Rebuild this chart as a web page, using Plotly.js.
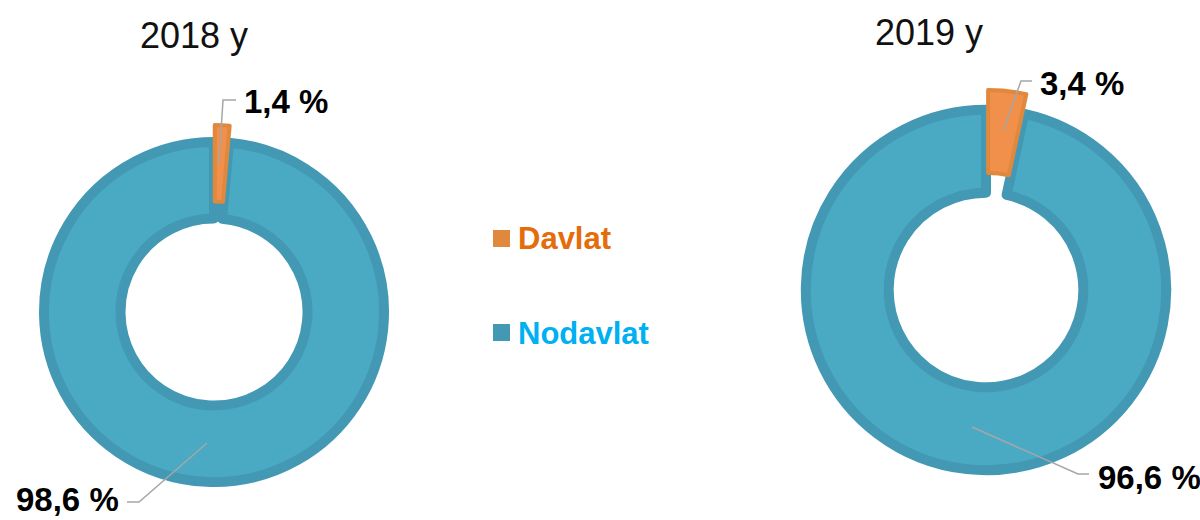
<!DOCTYPE html>
<html>
<head>
<meta charset="utf-8">
<script src="https://cdn.plot.ly/plotly-3.0.1.min.js"></script>
<style>html,body{margin:0;padding:0;background:#fff;}#chart{width:1200px;height:520px;}</style>
</head>
<body>
<div id="chart"></div>
<script>
// ---- data ----
const categories = ['Davlat', 'Nodavlat'];
const years = ['2018 y', '2019 y'];
const values2018 = [1.4, 98.6];
const values2019 = [3.4, 96.6];

// ---- styles ----
const fillColors = ['#F0904A', '#4AAAC4'];
const lineColors = ['#E0883E', '#4399B4'];
const lineWidths = [4, 10];
const legendTextColors = ['#E46C0A', '#00B0F0'];
const W = 1200, H = 520;
const FONT = 'Arial, "Liberation Sans", sans-serif';

function px(x, y) { return [x / W, 1 - y / H]; }
function domainFor(cx, cy, size) {
  const h = size / 2;
  return { x: [(cx - h) / W, (cx + h) / W], y: [1 - (cy + h) / H, 1 - (cy - h) / H] };
}
function fmt(v) { return v.toFixed(1).replace('.', ',') + ' %'; }

// slices are given in reverse order so the exploded "Davlat" slice is drawn on top;
// rotation puts the Davlat slice just clockwise of 12 o'clock
function pieTrace(vals, dom, pull, hole) {
  const order = [1, 0];
  const total = vals[0] + vals[1];
  return {
    type: 'pie',
    labels: order.map(i => categories[i]),
    values: order.map(i => vals[i]),
    sort: false,
    direction: 'clockwise',
    rotation: vals[0] / total * 360,
    hole: hole,
    pull: order.map(i => i === 0 ? pull : 0),
    domain: dom,
    textinfo: 'none',
    hoverinfo: 'label+value',
    showlegend: false,
    marker: {
      colors: order.map(i => fillColors[i]),
      line: { color: order.map(i => lineColors[i]), width: order.map(i => lineWidths[i]) }
    }
  };
}

const data = [
  pieTrace(values2018, domainFor(214, 312, 374), 0.1, 0.55),
  pieTrace(values2019, domainFor(986, 290, 400), 0.11, 0.54)
];

function pathPx(points) {
  return points.map((p, i) => {
    const q = px(p[0], p[1]);
    return (i ? 'L' : 'M') + q[0] + ',' + q[1];
  }).join(' ');
}
const leaderStyle = { color: '#A6A6A6', width: 1.5 };
const shapes = [
  { type: 'path', xref: 'paper', yref: 'paper', layer: 'above', path: pathPx([[219, 163], [223, 100], [236, 100]]), line: leaderStyle },
  { type: 'path', xref: 'paper', yref: 'paper', layer: 'above', path: pathPx([[207, 443], [139, 502], [127, 502]]), line: leaderStyle },
  { type: 'path', xref: 'paper', yref: 'paper', layer: 'above', path: pathPx([[1003, 131], [1021, 81], [1032, 81]]), line: leaderStyle },
  { type: 'path', xref: 'paper', yref: 'paper', layer: 'above', path: pathPx([[972, 427], [1078, 474], [1089, 474]]), line: leaderStyle },
  // legend markers
  { type: 'rect', xref: 'paper', yref: 'paper', layer: 'above', x0: 493 / W, x1: 510 / W, y0: 1 - 247 / H, y1: 1 - 230 / H, fillcolor: lineColors[0], line: { width: 0 } },
  { type: 'rect', xref: 'paper', yref: 'paper', layer: 'above', x0: 493 / W, x1: 510 / W, y0: 1 - 341 / H, y1: 1 - 324 / H, fillcolor: lineColors[1], line: { width: 0 } }
];

function ann(x, y, text, opts) {
  const p = px(x, y);
  return Object.assign({ xref: 'paper', yref: 'paper', x: p[0], y: p[1], text: text, showarrow: false,
    xanchor: 'left', yanchor: 'middle' }, opts);
}
const labelFont = { family: FONT, size: 33, color: '#000' };
const titleFont = { family: FONT, size: 36, color: '#111' };
const annotations = [
  ann(194, 36, years[0], { xanchor: 'center', font: titleFont }),
  ann(929, 32, years[1], { xanchor: 'center', font: titleFont }),
  ann(242, 102, '<b>' + fmt(values2018[0]) + '</b>', { font: labelFont }),
  ann(121, 499, '<b>' + fmt(values2018[1]) + '</b>', { xanchor: 'right', font: labelFont }),
  ann(1038, 83, '<b>' + fmt(values2019[0]) + '</b>', { font: labelFont }),
  ann(1096, 477, '<b>' + fmt(values2019[1]) + '</b>', { font: labelFont }),
  ann(516, 239, '<b>' + categories[0] + '</b>', { font: { family: FONT, size: 31, color: legendTextColors[0] } }),
  ann(516, 333, '<b>' + categories[1] + '</b>', { font: { family: FONT, size: 31, color: legendTextColors[1] } })
];

const layout = {
  width: W, height: H,
  margin: { l: 0, r: 0, t: 0, b: 0 },
  paper_bgcolor: '#fff',
  plot_bgcolor: '#fff',
  showlegend: false,
  shapes: shapes,
  annotations: annotations,
  font: { family: FONT }
};

Plotly.newPlot('chart', data, layout, { displayModeBar: false, staticPlot: true });
</script>
</body>
</html>
